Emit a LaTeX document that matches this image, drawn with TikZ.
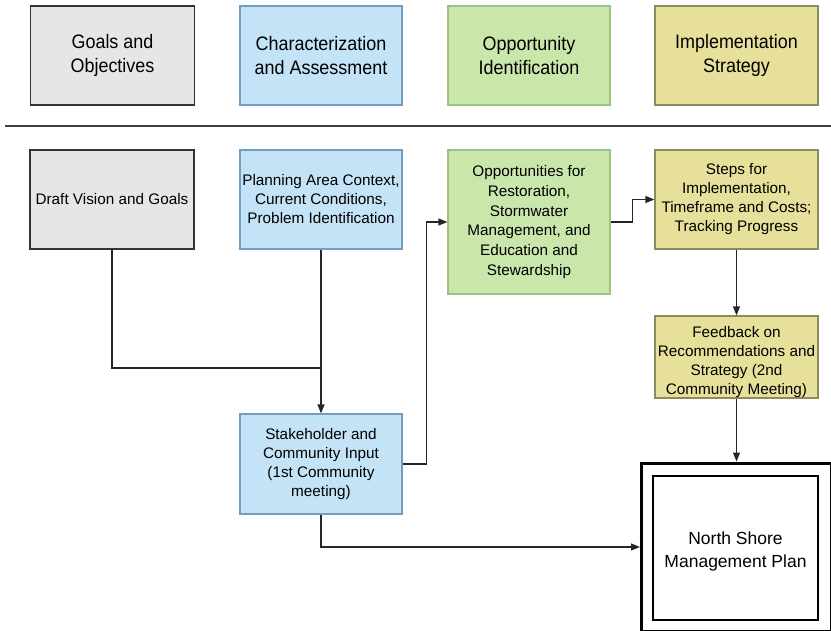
\documentclass[tikz,border=0pt]{standalone}
\usepackage{fontspec}
\setmainfont{Liberation Sans}
\newfontfamily\narrowfont{Liberation Sans}[FakeStretch=0.92]
\usetikzlibrary{arrows.meta}
\definecolor{grayfill}{HTML}{E6E6E6}
\definecolor{grayline}{HTML}{333333}
\definecolor{bluefill}{HTML}{C4E3F7}
\definecolor{blueline}{HTML}{6F9FC6}
\definecolor{greenfill}{HTML}{C9E7AB}
\definecolor{greenline}{HTML}{9DC383}
\definecolor{yellowfill}{HTML}{E6E09B}
\definecolor{yellowline}{HTML}{8E8A5E}
\tikzset{
  box/.style={draw, line width=1.2pt, align=center, inner sep=1pt, font=\fontsize{15.3}{19}\selectfont},
  head/.style={box, font=\narrowfont\fontsize{19.5}{24}\selectfont},
  gbox/.style={fill=grayfill, draw=grayline},
  bbox/.style={fill=bluefill, draw=blueline},
  grbox/.style={fill=greenfill, draw=greenline},
  ybox/.style={fill=yellowfill, draw=yellowline},
  conn/.style={draw=black!85, line width=1.2pt},
  arr/.style={conn, -{Triangle[length=9pt,width=7pt]}}
}
\begin{document}
\begin{tikzpicture}[x=1pt,y=-1pt]
\useasboundingbox (0,0) rectangle (831,630);
\fill[white] (0,0) rectangle (831,630);
% headers
\node[head,gbox,minimum width=164pt,minimum height=99pt] (h1) at (112.5,55.5) {Goals and\\Objectives};
\node[head,bbox,minimum width=162pt,minimum height=99pt] (h2) at (321,55.5) {Characterization\\and Assessment};
\node[head,grbox,minimum width=162pt,minimum height=99pt] (h3) at (529,55.5) {Opportunity\\Identification};
\node[head,ybox,minimum width=163pt,minimum height=99pt] (h4) at (736.5,55.5) {Implementation\\Strategy};
\coordinate (l1) at (5,126);
\coordinate (l2) at (831,126);
\draw[draw=black!75, line width=2pt] (l1) -- (l2);
% body
\node[box,gbox,minimum width=164pt,minimum height=99pt] (dv) at (112,199.5) {Draft Vision and Goals};
\node[box,bbox,minimum width=162pt,minimum height=99pt] (pa) at (321,199.5) {Planning Area Context,\\Current Conditions,\\Problem Identification};
\node[box,grbox,minimum width=162pt,minimum height=144pt,font=\fontsize{15.3}{19.8}\selectfont] (op) at (529,222) {Opportunities for\\Restoration,\\Stormwater\\Management, and\\Education and\\Stewardship};
\node[box,ybox,minimum width=163pt,minimum height=99pt] (st) at (736.5,199.5) {Steps for\\Implementation,\\Timeframe and Costs;\\Tracking Progress};
\node[box,ybox,minimum width=163pt,minimum height=82pt] (fb) at (736.5,357) {};
\node[align=center, inner sep=0pt, font=\fontsize{15.3}{19}\selectfont] (fbt) at (736.5,362) {Feedback on\\Recommendations and\\Strategy (2nd\\Community Meeting)};
\node[box,bbox,minimum width=162pt,minimum height=100pt] (sk) at (321,464) {Stakeholder and\\Community Input\\(1st Community\\meeting)};
\node[draw=black, line width=3pt, minimum width=190pt, minimum height=168pt] (ns) at (736.5,547) {};
\node[draw=black, line width=2pt, fill=white, minimum width=165pt, minimum height=144pt] (nsi) at (735.5,548) {};
\node[align=center, inner sep=0pt, font=\fontsize{17.5}{23}\selectfont] (nst) at (735.5,551) {North Shore\\Management Plan};
% connectors
\coordinate (j) at (321,368);
\draw[conn] (dv.south) |- (j);
\draw[arr] (pa.south) -- (sk.north);
\draw[arr] (sk.east) -- ++(24,0) |- (op.west);
\draw[arr] (op.east) -- ++(22,0) |- (st.west);
\draw[arr] (st.south) -- (fb.north);
\draw[arr] (fb.south) -- (ns.north);
\draw[arr] (sk.south) |- (ns.west);
\end{tikzpicture}
\end{document}
